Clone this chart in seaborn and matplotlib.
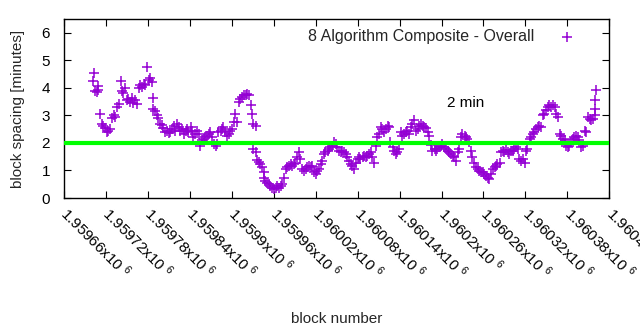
import matplotlib
matplotlib.use("Agg")
import matplotlib.pyplot as plt
import seaborn as sns
import pandas as pd
from matplotlib.ticker import FixedLocator, FuncFormatter

# ---- data ----
blocks_a = [1959701, 1959703, 1959705, 1959707, 1959708, 1959709, 1959712, 1959714, 1959716, 1959719,
            1959721, 1959723, 1959726, 1959728, 1959731, 1959733, 1959736, 1959738, 1959742, 1959743,
            1959745, 1959747, 1959750, 1959752, 1959755, 1959757, 1959759, 1959762, 1959764, 1959767,
            1959769, 1959771, 1959774, 1959776, 1959779, 1959781, 1959783, 1959786, 1959787, 1959788,
            1959790, 1959793, 1959795, 1959798, 1959800, 1959802, 1959805, 1959807, 1959810, 1959812]
values_a = [4.24, 4.56, 3.90, 3.85, 4.07, 3.92, 3.07, 2.70, 2.60, 2.55,
            2.40, 2.45, 2.50, 2.90, 3.00, 2.95, 3.30, 3.40, 4.25, 3.90,
            3.80, 4.00, 3.55, 3.60, 3.50, 3.65, 3.45, 3.55, 3.40, 4.00,
            4.10, 4.05, 4.15, 4.10, 4.77, 4.30, 4.35, 4.20, 3.62, 3.25,
            3.15, 3.00, 2.90, 2.70, 2.65, 2.55, 2.40, 2.45, 2.35, 2.40]

blocks_b = [1959814, 1959817, 1959819, 1959822, 1959824, 1959826, 1959829, 1959831, 1959834, 1959836,
            1959838, 1959841, 1959843, 1959845, 1959848, 1959850, 1959853, 1959855, 1959857, 1959860,
            1959862, 1959865, 1959867, 1959869, 1959872, 1959874, 1959877, 1959879, 1959881, 1959884,
            1959886, 1959888, 1959891, 1959893, 1959896, 1959898, 1959900, 1959903, 1959905, 1959908,
            1959910, 1959912, 1959915, 1959917, 1959920, 1959922, 1959924, 1959927, 1959929, 1959931,
            1959934, 1959936, 1959939, 1959941, 1959943, 1959946, 1959948, 1959951, 1959953, 1959955,
            1959958, 1959960, 1959963, 1959965, 1959967, 1959970, 1959972, 1959974, 1959977, 1959979,
            1959982, 1959984, 1959986, 1959989, 1959991, 1959994, 1959996, 1959998, 1960001, 1960003,
            1960006, 1960008, 1960010, 1960013, 1960015, 1960018, 1960020, 1960022, 1960025, 1960027,
            1960029, 1960032, 1960034, 1960037, 1960039, 1960041, 1960044, 1960046, 1960049, 1960051,
            1960053, 1960056, 1960058, 1960061, 1960063, 1960065, 1960068, 1960070, 1960072, 1960075,
            1960077, 1960080, 1960082, 1960084, 1960087, 1960089, 1960092, 1960094, 1960096, 1960099,
            1960101, 1960104, 1960106, 1960108, 1960111, 1960113, 1960115, 1960118, 1960120, 1960123,
            1960125, 1960127, 1960130, 1960132, 1960135, 1960137, 1960139, 1960142, 1960144, 1960147,
            1960149, 1960151, 1960154, 1960156, 1960158, 1960161, 1960163, 1960166, 1960168, 1960170,
            1960173, 1960175, 1960178, 1960180, 1960182, 1960185, 1960187, 1960190, 1960192, 1960194,
            1960197, 1960199, 1960201, 1960204, 1960206, 1960209, 1960211, 1960213, 1960216, 1960218,
            1960221, 1960223, 1960225, 1960228, 1960230, 1960233, 1960235, 1960237, 1960240, 1960242,
            1960244, 1960247, 1960249, 1960252, 1960254, 1960256, 1960259, 1960261, 1960264, 1960266,
            1960268, 1960271, 1960273, 1960276, 1960278, 1960280, 1960283, 1960285, 1960288, 1960290,
            1960292, 1960295, 1960297, 1960299, 1960302, 1960304, 1960307, 1960309, 1960311, 1960314,
            1960316, 1960319, 1960321, 1960323, 1960326, 1960328, 1960331, 1960333, 1960335, 1960338,
            1960340, 1960342, 1960345, 1960347, 1960350, 1960352, 1960354, 1960357, 1960359, 1960362,
            1960364, 1960366, 1960369, 1960371, 1960374, 1960376, 1960378, 1960381, 1960383, 1960385,
            1960388, 1960390, 1960393, 1960395, 1960397, 1960400, 1960402, 1960405, 1960407, 1960409,
            1960412, 1960414, 1960417, 1960419, 1960421]
values_b = [2.51, 2.63, 2.45, 2.70, 2.57, 2.45, 2.51, 2.33, 2.45, 2.51,
            2.39, 2.57, 2.45, 2.21, 2.33, 2.45, 2.33, 1.90, 2.09, 2.15,
            2.21, 2.27, 2.33, 2.39, 2.21, 1.96, 1.90, 1.96, 2.39, 2.45,
            2.51, 2.57, 2.39, 2.27, 2.33, 2.45, 2.51, 2.76, 3.06, 2.76,
            3.49, 3.61, 3.67, 3.73, 3.73, 3.79, 3.73, 3.37, 3.06, 2.70,
            2.63, 1.38, 1.32, 1.23, 1.11, 0.93, 0.62, 0.56, 0.50, 0.44,
            0.38, 0.32, 0.38, 0.44, 0.38, 0.44, 0.50, 0.74, 1.05, 1.11,
            1.17, 1.23, 1.17, 1.23, 1.29, 1.48, 1.66, 1.41, 1.05, 0.99,
            1.05, 1.11, 1.17, 1.11, 1.17, 0.93, 0.87, 0.99, 1.05, 1.23,
            1.35, 1.60, 1.66, 1.72, 1.78, 1.84, 1.90, 2.02, 1.96, 1.84,
            1.72, 1.66, 1.72, 1.66, 1.60, 1.48, 1.35, 1.23, 1.17, 1.05,
            1.29, 1.41, 1.48, 1.41, 1.48, 1.54, 1.48, 1.54, 1.60, 1.66,
            1.48, 1.29, 1.90, 2.21, 2.33, 2.57, 2.51, 2.39, 2.51, 2.63,
            2.57, 2.02, 1.84, 1.72, 1.60, 1.66, 1.78, 2.39, 2.27, 2.33,
            2.39, 2.45, 2.33, 2.57, 2.70, 2.82, 2.45, 2.51, 2.63, 2.70,
            2.63, 2.57, 2.54, 2.39, 2.24, 1.93, 1.72, 1.78, 1.72, 1.78,
            1.84, 1.90, 1.96, 1.84, 1.78, 1.72, 1.66, 1.60, 1.54, 1.48,
            1.35, 1.66, 1.78, 2.21, 2.33, 2.27, 2.21, 2.15, 2.02, 1.72,
            1.48, 1.29, 1.11, 1.05, 0.99, 0.93, 0.93, 0.87, 0.80, 0.74,
            0.68, 0.87, 1.05, 1.11, 1.17, 1.23, 1.29, 1.66, 1.72, 1.66,
            1.75, 1.66, 1.60, 1.69, 1.69, 1.78, 1.84, 1.78, 1.41, 1.35,
            1.41, 1.29, 1.72, 1.78, 2.15, 2.21, 2.33, 2.39, 2.51, 2.57,
            2.63, 2.57, 3.00, 3.06, 3.18, 3.30, 3.37, 3.30, 3.37, 3.30,
            3.06, 2.94, 2.33, 2.27, 2.15, 2.09, 1.90, 1.84, 1.90, 2.02,
            2.15, 2.21, 2.27, 2.21, 2.09, 1.84, 1.90, 2.45, 2.39, 2.94,
            2.88, 2.82, 2.88, 3.00, 3.92]

blocks_extra = [1959931, 1959934, 1959946, 1960419, 1960419]
values_extra = [1.78, 1.66, 0.74, 3.24, 3.55]

series_label = "8 Algorithm Composite - Overall"
target_minutes = 2
x_ticks = [1959660, 1959720, 1959780, 1959840, 1959900, 1959960, 1960020,
           1960080, 1960140, 1960200, 1960260, 1960320, 1960380, 1960440]
y_ticks = [0, 1, 2, 3, 4, 5, 6]

df = pd.DataFrame({
    "block": blocks_a + blocks_b + blocks_extra,
    "spacing": values_a + values_b + values_extra,
})

# ---- styling ----
sns.set_theme(style="white")
plt.rcParams["font.family"] = ["Liberation Sans", "DejaVu Sans"]
plt.rcParams["mathtext.fontset"] = "custom"
plt.rcParams["mathtext.rm"] = "Liberation Sans"
plt.rcParams["mathtext.it"] = "Liberation Sans"

fig = plt.figure(figsize=(6.4, 3.3), dpi=100)
ax = fig.add_axes([0.1, 0.4, 0.852, 0.542])

purple = "#9400D3"
sns.scatterplot(data=df, x="block", y="spacing", marker="+", s=55,
                color=purple, linewidth=1.1, ax=ax, label=series_label, zorder=2)
ax.axhline(target_minutes, color="#00FF00", lw=3, zorder=3)
ax.text(1960235, 3.45, "2 min", ha="center", va="center", fontsize=11, color="black")

ax.set_xlim(x_ticks[0], x_ticks[-1])
ax.set_ylim(0, 6.5)
ax.xaxis.set_major_locator(FixedLocator(x_ticks))
ax.yaxis.set_major_locator(FixedLocator(y_ticks))
ax.xaxis.set_major_formatter(FuncFormatter(lambda v, p: f"{v/1e6:g}x10 $^{{6}}$"))
ax.yaxis.set_major_formatter(FuncFormatter(lambda v, p: f"{v:g}"))

for s in ax.spines.values():
    s.set_color("black")
    s.set_linewidth(1.0)
ax.tick_params(axis="both", which="major", direction="in", length=5, width=0.8,
               top=True, right=True, bottom=True, left=True, labelsize=11, colors="black")
ax.tick_params(axis="x", pad=9)
ax.tick_params(axis="y", pad=10)
plt.setp(ax.get_xticklabels(), rotation=-45, ha="left", va="center", rotation_mode="anchor")

ax.set_xlabel("block number", fontsize=11, labelpad=22)
ax.set_ylabel("block spacing [minutes]", fontsize=11, labelpad=12)
ax.grid(False)

leg = ax.legend(loc="upper right", markerfirst=False, frameon=False, fontsize=11.5,
                handlelength=2.3, handletextpad=0.9, borderaxespad=0.2,
                bbox_to_anchor=(0.974, 1.0))

fig.savefig("out.png", dpi=100)
